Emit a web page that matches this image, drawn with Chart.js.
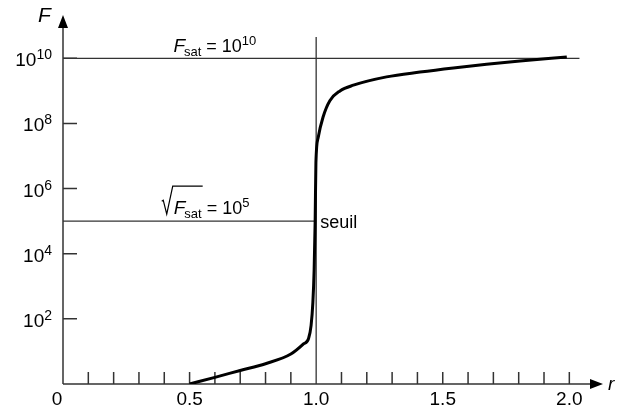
<!DOCTYPE html>
<html>
<head>
<meta charset="utf-8">
<script src="https://cdn.jsdelivr.net/npm/chart.js@4"></script>
<style>
  html, body { margin: 0; padding: 0; background: #fff; }
  #wrap { width: 618px; height: 414px; }
</style>
</head>
<body>
<div id="wrap"><canvas id="grafico" width="618" height="414"></canvas></div>
<script>
// courbe F(r)
const rValues = [0.5, 0.6, 0.7, 0.8, 0.9, 0.95, 0.97, 0.98, 0.987, 0.992, 0.996, 0.999, 1.008, 1.027, 1.054, 1.094, 1.147, 1.278, 1.41, 1.542, 1.673, 1.805, 1.99];
const fValues = [1, 1.6, 2.6, 4.2, 8.3, 17, 25, 63, 320, 3.2e3, 1e5, 6.3e6, 3.7e7, 1.55e8, 5e8, 1.0e9, 1.5e9, 2.7e9, 3.8e9, 5.1e9, 6.6e9, 8.3e9, 1.1e10];

// droites de repère
const satR = [0, 2.04];
const satF = [1e10, 1e10];
const rootR = [0, 1.0];
const rootF = [1e5, 1e5];
const seuilR = [1.0, 1.0];
const seuilF = [1, 4.5e10];

// graduations
const xMinor = [0.1, 0.2, 0.3, 0.4, 0.5, 0.6, 0.7, 0.8, 0.9, 1.1, 1.2, 1.3, 1.4, 1.5, 1.6, 1.7, 1.8, 1.9, 2.0];
const xLabelValues = [0, 0.5, 1.0, 1.5, 2.0];
const xLabelTexts = ['0', '0.5', '1.0', '1.5', '2.0'];
const yExponents = [2, 4, 6, 8, 10];

const FONT = "'Liberation Sans', Arial, sans-serif";
const AXIS = '#333';

function pts(xs, ys) {
    return xs.map((x, i) => ({ x: x, y: ys[i] }));
}

// texte avec indices / exposants
function drawRich(ctx, x, y, parts) {
    parts.forEach(p => {
        ctx.font = (p.italic ? 'italic ' : '') + p.size + 'px ' + FONT;
        ctx.fillText(p.text, x, y + (p.dy || 0));
        x += ctx.measureText(p.text).width + (p.gap || 0);
    });
    return x;
}

const axesPlugin = {
    id: 'axes',
    beforeDatasetsDraw(chart) {
        const ctx = chart.ctx;
        const a = chart.chartArea;
        const xs = chart.scales.x, ys = chart.scales.y;
        ctx.save();
        ctx.strokeStyle = AXIS;
        ctx.fillStyle = '#000';
        ctx.lineWidth = 1.5;
        // axes
        ctx.beginPath();
        ctx.moveTo(a.left, a.bottom);
        ctx.lineTo(a.left, a.top + 8);
        ctx.moveTo(a.left, a.bottom);
        ctx.lineTo(a.right - 8, a.bottom);
        // graduations x
        xMinor.forEach(v => {
            const px = xs.getPixelForValue(v);
            ctx.moveTo(px, a.bottom);
            ctx.lineTo(px, a.bottom - 12);
        });
        // graduations y
        yExponents.forEach(e => {
            const py = ys.getPixelForValue(Math.pow(10, e));
            ctx.moveTo(a.left, py);
            ctx.lineTo(a.left + 14, py);
        });
        ctx.stroke();
        // flèches
        ctx.beginPath();
        ctx.moveTo(a.left, a.top - 1);
        ctx.lineTo(a.left - 5, a.top + 12);
        ctx.lineTo(a.left + 5, a.top + 12);
        ctx.closePath();
        ctx.moveTo(a.right, a.bottom);
        ctx.lineTo(a.right - 13, a.bottom - 5);
        ctx.lineTo(a.right - 13, a.bottom + 5);
        ctx.closePath();
        ctx.fill();
        ctx.restore();
    },
    afterDatasetsDraw(chart) {
        const ctx = chart.ctx;
        const a = chart.chartArea;
        const xs = chart.scales.x, ys = chart.scales.y;
        ctx.save();
        ctx.fillStyle = '#000';
        ctx.textBaseline = 'alphabetic';

        // étiquettes x
        ctx.font = '19px ' + FONT;
        ctx.textAlign = 'center';
        xLabelValues.forEach((v, i) => {
            let px = xs.getPixelForValue(v);
            if (v === 0) px -= 6;
            ctx.fillText(xLabelTexts[i], px, a.bottom + 21);
        });

        // étiquettes y : 10^n
        ctx.textAlign = 'left';
        yExponents.forEach(e => {
            const py = ys.getPixelForValue(Math.pow(10, e));
            ctx.font = '14px ' + FONT;
            const supW = ctx.measureText(String(e)).width;
            ctx.font = '19px ' + FONT;
            const baseW = ctx.measureText('10').width;
            const x0 = a.left - 11 - supW - baseW;
            drawRich(ctx, x0, py + 8, [
                { text: '10', size: 19 },
                { text: String(e), size: 14, dy: -7 }
            ]);
        });

        // titres des axes
        drawRich(ctx, a.left - 25, a.top + 6, [{ text: 'F', size: 21, italic: true }]);
        drawRich(ctx, a.right + 5, a.bottom + 6, [{ text: 'r', size: 19, italic: true }]);

        // F_sat = 10^10
        const sx = xs.getPixelForValue(0.436);
        const sy = ys.getPixelForValue(1e10) - 6;
        drawRich(ctx, sx, sy, [
            { text: 'F', size: 19, italic: true, gap: -1 },
            { text: 'sat', size: 13, dy: 4 },
            { text: ' = 10', size: 18 },
            { text: '10', size: 13, dy: -7 }
        ]);

        // racine de F_sat = 10^5
        const rx = xs.getPixelForValue(0.39);
        const ry = ys.getPixelForValue(1e5) - 7;
        const endF = drawRich(ctx, rx + 12, ry, [
            { text: 'F', size: 19, italic: true, gap: -1 },
            { text: 'sat', size: 13, dy: 4 }
        ]);
        drawRich(ctx, endF, ry, [
            { text: ' = 10', size: 18 },
            { text: '5', size: 13, dy: -7 }
        ]);
        ctx.strokeStyle = '#000';
        ctx.lineWidth = 1.2;
        ctx.lineJoin = 'miter';
        ctx.beginPath();
        ctx.moveTo(rx, ry - 13);
        ctx.lineTo(rx + 1.5, ry - 14);
        ctx.lineTo(rx + 5, ry);
        ctx.lineTo(rx + 11, ry - 28);
        ctx.lineTo(endF + 1, ry - 28);
        ctx.stroke();

        // seuil
        ctx.font = '18px ' + FONT;
        ctx.fillText('seuil', xs.getPixelForValue(1.0) + 4, ys.getPixelForValue(1e5) + 7);
        ctx.restore();
    }
};

const ctx = document.getElementById('grafico');

new Chart(ctx, {
    type: 'line',
    data: {
        datasets: [
            {
                data: pts(rValues, fValues),
                borderColor: '#000',
                borderWidth: 3,
                cubicInterpolationMode: 'monotone',
                pointRadius: 0
            },
            {
                data: pts(satR, satF),
                borderColor: AXIS,
                borderWidth: 1.3,
                pointRadius: 0
            },
            {
                data: pts(rootR, rootF),
                borderColor: AXIS,
                borderWidth: 1.3,
                pointRadius: 0
            },
            {
                data: pts(seuilR, seuilF),
                borderColor: AXIS,
                borderWidth: 1.3,
                pointRadius: 0
            }
        ]
    },
    options: {
        responsive: false,
        animation: false,
        layout: { padding: { left: 63, right: 15, top: 16, bottom: 30 } },
        plugins: { legend: { display: false }, tooltip: { enabled: false } },
        scales: {
            x: { type: 'linear', min: 0, max: 2.133, display: false },
            y: { type: 'logarithmic', min: 1, max: 2e11, display: false }
        }
    },
    plugins: [axesPlugin]
});
</script>
</body>
</html>
